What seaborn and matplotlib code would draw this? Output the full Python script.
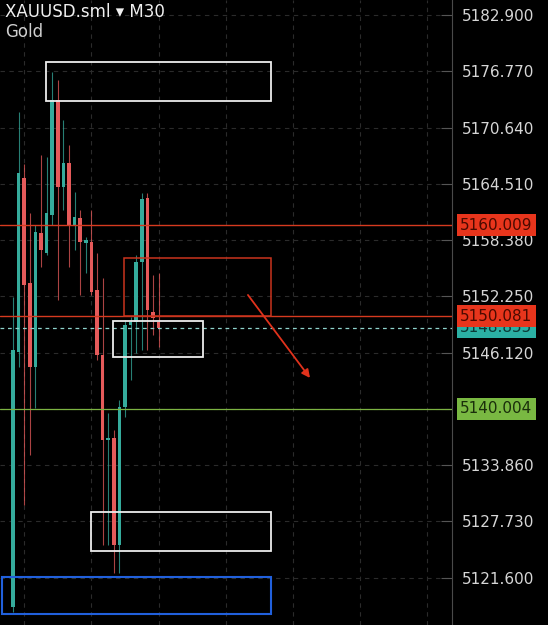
import numpy as np
import pandas as pd
import matplotlib
matplotlib.use('Agg')
import matplotlib.pyplot as plt
from matplotlib.patches import Rectangle
import seaborn as sns

# M30 candles, XAUUSD
opens = [5118.41, 5146.19, 5165.14, 5153.71, 5144.56, 5159.15, 5156.97, 5161.11, 5173.64,
         5164.16, 5166.78, 5160.02, 5160.79, 5158.06, 5158.17, 5152.94, 5145.86, 5136.60,
         5136.82, 5125.17, 5140.20, 5149.13, 5149.46, 5155.99, 5162.97, 5150.55, 5149.46]
highs = [5152.18, 5172.33, 5166.67, 5161.33, 5160.02, 5167.65, 5167.43, 5176.69, 5175.82,
         5171.46, 5168.74, 5163.62, 5161.66, 5158.72, 5161.66, 5156.97, 5154.25, 5139.54,
         5137.69, 5140.96, 5149.68, 5150.00, 5156.76, 5163.51, 5163.51, 5154.58, 5154.80]
lows = [5117.87, 5144.56, 5129.52, 5134.97, 5140.09, 5155.45, 5156.76, 5160.02, 5151.85,
        5161.66, 5155.45, 5157.30, 5152.40, 5154.80, 5152.40, 5145.32, 5125.17, 5125.17,
        5122.12, 5122.12, 5139.11, 5143.14, 5146.08, 5146.41, 5146.41, 5148.04, 5146.73]
closes = [5146.41, 5165.69, 5153.49, 5144.56, 5159.26, 5157.30, 5161.33, 5173.64, 5164.16,
          5166.78, 5160.02, 5160.90, 5158.17, 5158.39, 5152.73, 5145.86, 5136.60, 5136.82,
          5125.17, 5140.20, 5149.13, 5149.46, 5155.99, 5162.86, 5150.76, 5149.89, 5148.855]

price_ticks = [5182.900, 5176.770, 5170.640, 5164.510, 5158.380, 5152.250,
               5146.120, 5139.990, 5133.860, 5127.730, 5121.600]
# 5139.990 sits under the support tag, so its label is not drawn
tick_labels = ['5182.900', '5176.770', '5170.640', '5164.510', '5158.380', '5152.250',
               '5146.120', '', '5133.860', '5127.730', '5121.600']

resistance_levels = [5160.009, 5150.081]
support_level = 5140.004
last_price = 5148.855

# zones: (start index, end index, low price, high price)
white_zones = [(5.9, 46.1, 5173.53, 5177.78),
               (17.86, 33.9, 5145.65, 5149.57),
               (13.9, 46.1, 5124.51, 5128.76)]
red_zone = (19.8, 46.1, 5150.081, 5156.43)
blue_zone = (-1.96, 46.1, 5117.67, 5121.68)
arrow_start = (41.96, 5152.40)
arrow_end = (53.04, 5143.36)

df = pd.DataFrame({'open': opens, 'high': highs, 'low': lows, 'close': closes})
df['idx'] = np.arange(len(df))
df['up'] = df['close'] >= df['open']

sns.set_theme(style='dark', rc={'axes.facecolor': 'black', 'figure.facecolor': 'black'})
plt.rcParams['font.family'] = ['DejaVu Sans']

UP = '#35ab9c'
DOWN = '#e55a5a'

fig = plt.figure(figsize=(5.48, 6.25), dpi=100)
ax = fig.add_axes([0, 0, 452 / 548, 1])
ax.set_facecolor('black')

cols = np.where(df['up'], UP, DOWN)
ax.vlines(df['idx'], df['low'], df['high'], colors=cols, linewidth=0.8, alpha=0.75, zorder=3)
body = (df['close'] - df['open']).abs().clip(lower=0.25)
bottom = df[['open', 'close']].min(axis=1)
ax.bar(df['idx'], body, bottom=bottom, width=0.64, color=cols, linewidth=0, zorder=4)

ax.set_xlim(-2.32, 78.4)
ax.set_ylim(5116.45, 5184.53)

# grid
ax.set_yticks(price_ticks)
ax.set_xticks([2, 14, 26, 38, 50, 62, 74])
ax.set_xticklabels([])
ax.grid(True, color='#2b2b2b', linestyle=(0, (4, 4)), linewidth=0.8)
ax.tick_params(axis='x', length=0)
ax.yaxis.tick_right()
ax.tick_params(axis='y', direction='in', length=8, pad=7, colors='#555555',
               labelcolor='#d6d6d6', labelsize=11, width=0.8)
ax.set_yticklabels(tick_labels)
for s in ['top', 'left', 'bottom']:
    ax.spines[s].set_visible(False)
ax.spines['right'].set_color('#4a4a4a')
ax.spines['right'].set_linewidth(0.8)

# levels
for lv in resistance_levels:
    ax.axhline(lv, color='#d63a1f', linewidth=1.0, zorder=5)
ax.axhline(support_level, color='#7cb342', linewidth=0.9, zorder=5)
ax.axhline(last_price, color='#8fd3cc', linewidth=0.9, linestyle=(0, (3, 3)), zorder=5)

# zones
for x0, x1, p0, p1 in white_zones:
    ax.add_patch(Rectangle((x0, p0), x1 - x0, p1 - p0, fill=False,
                           edgecolor='#ececec', linewidth=1.3, zorder=6))
x0, x1, p0, p1 = red_zone
ax.add_patch(Rectangle((x0, p0), x1 - x0, p1 - p0, fill=False,
                       edgecolor='#c9341e', linewidth=1.1, zorder=6))
x0, x1, p0, p1 = blue_zone
ax.add_patch(Rectangle((x0, p0), x1 - x0, p1 - p0, fill=False,
                       edgecolor='#2160dc', linewidth=1.5, zorder=6))
ax.annotate('', xy=arrow_end, xytext=arrow_start,
            arrowprops=dict(arrowstyle='-|>', color='#e0321c', lw=1.3,
                            mutation_scale=12, shrinkA=0, shrinkB=0), zorder=7)

# price labels on the axis
def price_tag(price, face, text_color):
    ax.text(1.018, price, f'{price:.3f}', transform=ax.get_yaxis_transform(),
            ha='left', va='center', fontsize=11, color=text_color, clip_on=False,
            bbox=dict(boxstyle='square,pad=0.22', facecolor=face, edgecolor='none'),
            zorder=10)

price_tag(last_price, '#2bb0a4', '#0b3b37')
price_tag(resistance_levels[0], '#e8351c', '#4a0a00')
price_tag(resistance_levels[1], '#e8351c', '#4a0a00')
price_tag(support_level, '#79b842', '#1a2e0b')

fig.text(5 / 548, 1 - 12 / 625, 'XAUUSD.sml \u25be M30', color='#f0f0f0', fontsize=12,
         ha='left', va='center')
fig.text(5 / 548, 1 - 32 / 625, 'Gold', color='#cfcfcf', fontsize=12, ha='left', va='center')

fig.savefig('out.png', dpi=100, facecolor='black')
plt.close()
